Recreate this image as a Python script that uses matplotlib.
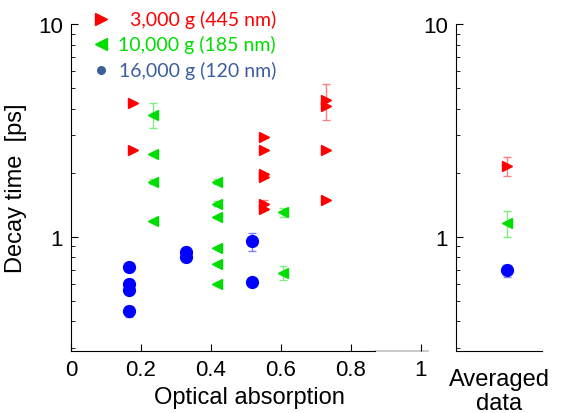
import numpy as np
import matplotlib
matplotlib.use("Agg")
import matplotlib.pyplot as plt
from matplotlib.ticker import LogLocator, NullFormatter, FixedLocator, FixedFormatter

plt.rcParams['font.family'] = ['Liberation Sans', 'DejaVu Sans']

# Datos
abs_3k = [0.177, 0.177, 0.551, 0.551, 0.551, 0.551, 0.551, 0.551, 0.729, 0.729, 0.729, 0.729]
tau_3k = [4.25, 2.56, 2.95, 2.56, 1.98, 1.90, 1.42, 1.35, 4.4, 4.1, 2.56, 1.49]
err_3k = [0, 0, 0, 0, 0, 0, 0.06, 0, 0.85, 0, 0, 0]

abs_10k = [0.234, 0.234, 0.234, 0.234, 0.417, 0.417, 0.417, 0.417, 0.417, 0.417, 0.606, 0.606]
tau_10k = [3.74, 2.45, 1.81, 1.19, 1.81, 1.43, 1.24, 0.888, 0.747, 0.60, 1.30, 0.678]
err_10k = [0.5, 0, 0.05, 0, 0.05, 0.04, 0, 0, 0, 0, 0.06, 0.05]

abs_16k = [0.166, 0.166, 0.166, 0.166, 0.329, 0.329, 0.517, 0.517]
tau_16k = [0.723, 0.600, 0.558, 0.445, 0.850, 0.806, 0.950, 0.615]
err_16k = [0.03, 0.03, 0.0, 0.025, 0.04, 0, 0.09, 0]

prom_tau = [2.15, 1.16, 0.693]
prom_err = [0.23, 0.16, 0.045]

etiquetas = ['3,000 g (445 nm)', '10,000 g (185 nm)', '16,000 g (120 nm)']

rojo, verde, azul = '#ff0000', '#00dd00', '#0000ff'
err_rojo, err_verde, err_azul = '#ff8080', '#80ee80', '#8080ff'

fig = plt.figure(figsize=(5.61, 4.14), dpi=100)
ax = fig.add_axes([0.1266, 0.150, 0.636, 0.7894])
ax2 = fig.add_axes([0.8128, 0.150, 0.1533, 0.7894])

series = [
    (abs_3k, tau_3k, err_3k, '>', rojo, err_rojo),
    (abs_10k, tau_10k, err_10k, '<', verde, err_verde),
    (abs_16k, tau_16k, err_16k, 'o', azul, err_azul),
]
for x, y, e, m, c, ce in series:
    ax.errorbar(x, y, yerr=e, fmt='none', ecolor=ce, elinewidth=1, capsize=3, zorder=2)
    ax.plot(x, y, ls='none', marker=m, color=c, ms=7.5 if m != 'o' else 8.5, mec=c, zorder=3)

for i, (x, y, e, m, c, ce) in enumerate(series):
    ax2.errorbar([0.59], [prom_tau[i]], yerr=[prom_err[i]], fmt='none', ecolor=ce,
                 elinewidth=1, capsize=3, zorder=2)
    ax2.plot([0.59], [prom_tau[i]], ls='none', marker=m, color=c,
             ms=7.5 if m != 'o' else 8.5, mec=c, zorder=3)

for a in (ax, ax2):
    a.set_yscale('log')
    a.set_ylim(0.29, 10)
    a.spines['top'].set_visible(False)
    a.spines['right'].set_visible(False)
    a.yaxis.set_major_locator(FixedLocator([1, 10]))
    a.yaxis.set_major_formatter(FixedFormatter(['1', '10']))
    a.yaxis.set_minor_locator(LogLocator(base=10, subs=np.arange(2, 10)))
    a.yaxis.set_minor_formatter(NullFormatter())
    a.tick_params(axis='y', which='major', direction='in', length=5, labelsize=16, pad=6)
    a.tick_params(axis='y', which='minor', direction='in', length=3)

ax.set_xlim(0, 1.02)
ax.set_xticks([0, 0.2, 0.4, 0.6, 0.8, 1])
ax.set_xticklabels(['0', '0.2', '0.4', '0.6', '0.8', '1'])
ax.tick_params(axis='x', direction='in', length=5, labelsize=16, pad=6)
ax.xaxis.get_major_ticks()[-1].tick1line.set_color('#b0b0b0')
# el eje inferior se desvanece al final (como en la figura original)
ax.spines['bottom'].set_bounds(0, 0.87)
ax.plot([0.87, 1.02], [0, 0], color='#c0c0c0', lw=1.2, clip_on=False,
        transform=ax.get_xaxis_transform(), zorder=1)
ax.set_xlabel('Optical absorption', fontsize=17, labelpad=4)
ax.set_ylabel('Decay time  [ps]', fontsize=17, labelpad=8)

ax2.set_xlim(0, 1)
ax2.set_xticks([])
ax2.set_xlabel('Averaged\ndata', fontsize=17, labelpad=12, linespacing=1.15)

# Leyenda hecha con texto, como en el original
col_txt = [rojo, verde, '#3c5f9c']
mk_leg = ['>', '<', 'o']
ys = [0.952, 0.891, 0.828]
for i in range(3):
    fig.lines.append(plt.Line2D([101 / 561], [ys[i]], ls='none', marker=mk_leg[i],
                                color=col_txt[i], ms=8.5 if i < 2 else 5.5,
                                transform=fig.transFigure, figure=fig))
    fig.text(276 / 561, ys[i], etiquetas[i], color=col_txt[i], fontsize=14,
             family=['Lato', 'DejaVu Sans'], ha='right', va='center')

fig.savefig('out.png', dpi=100)
